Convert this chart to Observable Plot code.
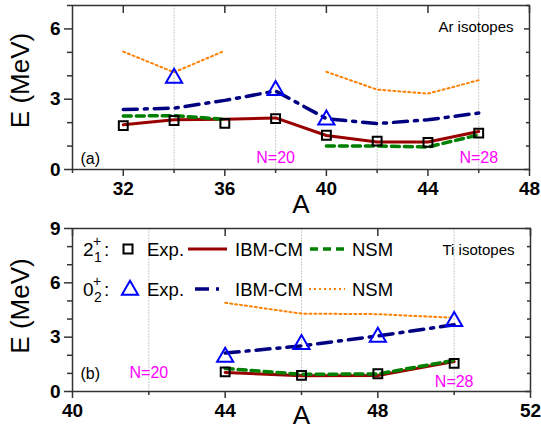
<!DOCTYPE html>
<html>
<head>
<meta charset="utf-8">
<script src="https://cdn.jsdelivr.net/npm/d3@7"></script>
<script src="https://cdn.jsdelivr.net/npm/@observablehq/plot@0.6"></script>
<style>
  body { margin: 0; background: white; }
  .panel { position: relative; width: 541px; height: 215px; }
  .panel svg.legend { position: absolute; left: 0; top: 0; pointer-events: none; }
</style>
</head>
<body>
<div id="chart"></div>
<script>
// ---- Ar isotopes (panel a) ----
const arA      = [32, 34, 36, 38, 40, 42, 44, 46];
const arExp2   = [1.87, 2.09, 1.97, 2.17, 1.46, 1.21, 1.16, 1.55];
const arIbm2   = [1.91, 2.12, 2.15, 2.20, 1.45, 1.17, 1.17, 1.62];
const arNsm2   = [2.28, 2.30, 2.14, null, 1.00, 1.00, 0.96, 1.48];
const arExp0   = [null, 3.90, null, 3.38, 2.12, null, null, null];
const arIbm0   = [2.56, 2.62, 2.95, 3.35, 2.17, 1.96, 2.12, 2.41];
const arNsm0   = [5.03, 4.15, 5.07, null, 4.17, 3.41, 3.24, 3.81];

// ---- Ti isotopes (panel b) ----
const tiA      = [44, 46, 48, 50];
const tiExp2   = [1.08, 0.89, 0.98, 1.55];
const tiIbm2   = [1.05, 0.87, 0.88, 1.65];
const tiNsm2   = [1.27, 0.95, 0.97, 1.72];
const tiExp0   = [1.90, 2.61, 3.00, 3.87];
const tiIbm0   = [2.12, 2.52, 3.07, 3.68];
const tiNsm0   = [4.90, 4.30, 4.27, 4.07];

// ---- axes / labels ----
const arXMajor = [32, 36, 40, 44, 48];
const arXMinor = [30, 34, 38, 42, 46];
const arYMajor = [0, 3, 6];
const arYMinor = [1, 2, 4, 5, 7];
const tiXMajor = [40, 44, 48, 52];
const tiXMinor = [42, 46, 50];
const tiYMajor = [0, 3, 6, 9];
const tiYMinor = [1, 2, 4, 5, 7, 8];
const arMagic  = [{A: 38, E: 0.50, label: "N=20"}, {A: 46, E: 0.48, label: "N=28"}];
const tiMagic  = [{A: 42, E: 1.05, label: "N=20"}, {A: 50, E: 0.52, label: "N=28"}];

const font = "'Liberation Sans', Arial, Helvetica, sans-serif";
const toRows = (A, cols) => A.map((a, i) => {
  const r = {A: a};
  for (const k in cols) r[k] = cols[k][i];
  return r;
});

const C = {
  red: "#990000", green: "#008000", navy: "#000080", orange: "#ff8000",
  blue: "#0000ff", magenta: "#ff00ff", frame: "#333333"
};

function panel(rows, opt) {
  const def = (k) => (d) => d[k] != null;
  return Plot.plot({
    width: 541, height: 215,
    marginLeft: 72, marginRight: opt.mr, marginTop: opt.mt, marginBottom: opt.mb,
    x: {domain: opt.xd},
    y: {domain: opt.yd},
    style: {fontFamily: font, background: "white", overflow: "visible"},
    marks: [
      Plot.gridX(opt.xMinor.filter(v => v > opt.xd[0] && v < opt.xd[1]), {stroke: "#cccccc", strokeOpacity: 1, strokeDasharray: "2,1", strokeWidth: 1}),
      Plot.line(rows, {x: "A", y: d => d.nsm0 ?? NaN, stroke: C.orange, strokeWidth: 2, strokeDasharray: "2,3"}),
      Plot.line(rows, {x: "A", y: d => d.ibm0 ?? NaN, stroke: C.navy, strokeWidth: 3.5, strokeDasharray: "14,7,3,7"}),
      Plot.line(rows, {x: "A", y: d => d.ibm2 ?? NaN, stroke: C.red, strokeWidth: 3}),
      Plot.line(rows, {x: "A", y: d => d.nsm2 ?? NaN, stroke: C.green, strokeWidth: 3.5, strokeDasharray: "8,5"}),
      Plot.dot(rows.filter(def("exp2")), {x: "A", y: "exp2", symbol: "square", r: 5, stroke: "black", strokeWidth: 2, fill: "none"}),
      Plot.dot(rows.filter(def("exp0")), {x: "A", y: "exp0", symbol: "triangle", r: 6, stroke: C.blue, strokeWidth: 2, fill: "none"}),
      Plot.frame({stroke: C.frame, strokeWidth: 1.5}),
      // bottom axis
      Plot.axisX(opt.xMajor, {tickSize: 7, tickPadding: 5, fontSize: 19, fontWeight: "bold", fill: "black", stroke: C.frame, strokeWidth: 1.5, label: null}),
      Plot.axisX(opt.xMinor, {tickSize: 4, text: null, stroke: C.frame, strokeWidth: 1.5, label: null}),
      // top inward
      Plot.axisX(opt.xMajor, {anchor: "top", tickSize: 7, dy: 7, text: null, stroke: C.frame, strokeWidth: 1.5, label: null}),
      // left axis
      Plot.axisY(opt.yMajor, {tickSize: 8, tickPadding: 4, fontSize: 19, fontWeight: "bold", fill: "black", stroke: C.frame, strokeWidth: 1.5, label: null}),
      Plot.axisY(opt.yMinor, {tickSize: 5, text: null, stroke: C.frame, strokeWidth: 1.5, label: null}),
      // right inward
      Plot.axisY(opt.yMajor, {anchor: "right", tickSize: 6, dx: -6, text: null, stroke: C.frame, strokeWidth: 1.5, label: null}),
      Plot.axisY(opt.yMinor, {anchor: "right", tickSize: 4, dx: -4, text: null, stroke: C.frame, strokeWidth: 1.5, label: null}),
      // axis titles
      Plot.text(["A"], {frameAnchor: "bottom", dy: opt.xLabelDy, fontSize: 26, fill: "black", lineAnchor: "middle"}),
      Plot.text(["E (MeV)"], {frameAnchor: "left", dx: -52, dy: opt.yLabelDy, rotate: -90, fontSize: 26, fill: "black", textAnchor: "middle", lineAnchor: "middle"}),
      // annotations
      Plot.text([opt.title], {frameAnchor: "top-right", dx: -16, dy: 22, fontSize: 15, fill: "black", textAnchor: "end", lineAnchor: "middle"}),
      Plot.text([opt.tag], {frameAnchor: "bottom-left", dx: 8, dy: opt.tagDy, fontSize: 16, fill: "black", textAnchor: "start", lineAnchor: "middle"}),
      Plot.text(opt.magic, {x: "A", y: "E", text: "label", fontSize: 16, fill: C.magenta, lineAnchor: "middle"})
    ]
  });
}

const arRows = toRows(arA, {exp2: arExp2, ibm2: arIbm2, nsm2: arNsm2, exp0: arExp0, ibm0: arIbm0, nsm0: arNsm0});
const tiRows = toRows(tiA, {exp2: tiExp2, ibm2: tiIbm2, nsm2: tiNsm2, exp0: tiExp0, ibm0: tiIbm0, nsm0: tiNsm0});

const pa = panel(arRows, {
  xd: [30, 48], yd: [0, 7], mt: 5, mb: 46, mr: 12,
  xMajor: arXMajor, xMinor: arXMinor, yMajor: arYMajor, yMinor: arYMinor,
  title: "Ar isotopes", tag: "(a)", magic: arMagic,
  xLabelDy: 35, yLabelDy: -7, tagDy: -11
});
const pb = panel(tiRows, {
  xd: [40, 52], yd: [0, 9], mt: 13, mb: 39, mr: 11,
  xMajor: tiXMajor, xMinor: tiXMinor, yMajor: tiYMajor, yMinor: tiYMinor,
  title: "Ti isotopes", tag: "(b)", magic: tiMagic,
  xLabelDy: 24, yLabelDy: -4, tagDy: -18
});

const chart = document.getElementById("chart");
const da = document.createElement("div"); da.className = "panel"; da.appendChild(pa);
const db = document.createElement("div"); db.className = "panel"; db.appendChild(pb);
chart.appendChild(da); chart.appendChild(db);

// legend overlay in panel (b)
const lg = d3.select(db).append("svg").attr("class", "legend").attr("width", 541).attr("height", 215)
  .style("font-family", font);
function state(y, main, sub) {
  lg.append("text").attr("x", 83).attr("y", y + 7).attr("font-size", 19).text(main);
  lg.append("text").attr("x", 93).attr("y", y - 3).attr("font-size", 14).text("+");
  lg.append("text").attr("x", 94).attr("y", y + 13).attr("font-size", 14).text(sub);
  lg.append("text").attr("x", 104).attr("y", y + 7).attr("font-size", 19).text(":");
}
function label(x, y, t) {
  lg.append("text").attr("x", x).attr("y", y + 7).attr("font-size", 18.5).text(t);
}
const y1 = 34, y2 = 74;
state(y1, "2", "1");
lg.append("rect").attr("x", 123.5).attr("y", y1 - 4.5).attr("width", 9).attr("height", 9)
  .attr("fill", "none").attr("stroke", "black").attr("stroke-width", 2);
label(147, y1, "Exp.");
lg.append("line").attr("x1", 188).attr("x2", 227).attr("y1", y1).attr("y2", y1)
  .attr("stroke", C.red).attr("stroke-width", 3);
label(235, y1, "IBM-CM");
lg.append("line").attr("x1", 310).attr("x2", 348).attr("y1", y1).attr("y2", y1)
  .attr("stroke", C.green).attr("stroke-width", 3.5).attr("stroke-dasharray", "8,5");
label(352, y1, "NSM");

state(y2, "0", "2");
lg.append("path").attr("transform", `translate(130,${y2 + 1})`)
  .attr("d", d3.symbol(d3.symbolTriangle, Math.PI * 36)())
  .attr("fill", "none").attr("stroke", C.blue).attr("stroke-width", 2);
label(147, y2, "Exp.");
lg.append("line").attr("x1", 195).attr("x2", 226).attr("y1", y2).attr("y2", y2)
  .attr("stroke", C.navy).attr("stroke-width", 3.5).attr("stroke-dasharray", "14,7,3,7");
label(235, y2, "IBM-CM");
lg.append("line").attr("x1", 309).attr("x2", 345).attr("y1", y2).attr("y2", y2)
  .attr("stroke", C.orange).attr("stroke-width", 2).attr("stroke-dasharray", "2,3");
label(352, y2, "NSM");
</script>
</body>
</html>
